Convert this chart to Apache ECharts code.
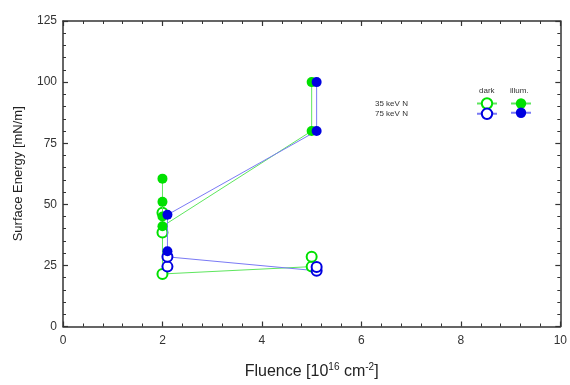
<!DOCTYPE html>
<html>
<head>
<meta charset="utf-8">
<script src="https://cdn.jsdelivr.net/npm/echarts@6/dist/echarts.min.js"></script>
<style>
  html, body { margin: 0; padding: 0; background: #fff; }
  #chart { width: 570px; height: 385px; }
</style>
</head>
<body>
<div id="chart"></div>
<script>
// fluence [1e16 cm^-2] and surface energy [mN/m]
const darkX35 = [2, 2, 2, 5, 5];
const darkY35 = [46.5, 38.5, 21.5, 24.5, 28.5];
const darkX75 = [2.1, 2.1, 5.1, 5.1];
const darkY75 = [24.5, 28.5, 22.8, 24.3];
const illumX35 = [2, 2, 2, 2, 5, 5];
const illumY35 = [60.5, 51, 45, 41, 80, 100];
const illumX75 = [2.1, 2.1, 5.1, 5.1];
const illumY75 = [30.8, 45.7, 80, 100];

const xTicks = [0, 2, 4, 6, 8, 10];
const yTicks = [0, 25, 50, 75, 100, 125];

const GREEN = '#00e000';
const BLUE = '#0000e0';
const font = 'Liberation Sans, Arial, sans-serif';

const pairs = (xs, ys) => xs.map((x, i) => [x, ys[i]]);

function series(name, xs, ys, color, lineColor, hollow) {
  return {
    name: name,
    type: 'line',
    data: pairs(xs, ys),
    symbol: hollow ? 'emptyCircle' : 'circle',
    symbolSize: 10,
    showSymbol: true,
    lineStyle: { color: lineColor, width: 1 },
    itemStyle: { color: color, borderColor: color, borderWidth: hollow ? 1 : 0 },
    emphasis: { disabled: true },
    z: hollow ? 2 : 3
  };
}

const axisCommon = {
  type: 'value',
  axisLine: { show: true, onZero: false, lineStyle: { color: '#333', width: 1.5 } },
  axisTick: { show: true, inside: true, length: 5, lineStyle: { color: '#333', width: 1.2 } },
  minorTick: { show: true, splitNumber: 5, length: 3, lineStyle: { color: '#333' } },
  splitLine: { show: false },
  axisLabel: { color: '#333', fontFamily: font, fontSize: 12 }
};

const legendCommon = {
  orient: 'vertical', top: 92,
  itemWidth: 20, itemHeight: 13, itemGap: -2.4,
  formatter: () => '', selectedMode: false,
  lineStyle: { type: 'dashed' }
};

const chart = echarts.init(document.getElementById('chart'));
chart.setOption({
  animation: false,
  backgroundColor: '#fff',
  grid: { left: 63, right: 8, top: 21, bottom: 52 },
  xAxis: [
    Object.assign({}, axisCommon, {
      min: xTicks[0], max: xTicks[xTicks.length - 1], interval: 2,
      axisLabel: Object.assign({}, axisCommon.axisLabel, { margin: 8 }),
      name: '{a|Fluence [10}{s|16}{a| cm}{s|-2}{a|]}',
      nameLocation: 'middle',
      nameGap: 36,
      nameTextStyle: {
        rich: {
          a: { fontSize: 16, fontFamily: font, color: '#222' },
          s: { fontSize: 10, fontFamily: font, color: '#222', padding: [0, 0, 9, 0] }
        }
      }
    }),
    Object.assign({}, axisCommon, {
      position: 'top', min: 0, max: 10, interval: 2,
      axisLabel: { show: false }
    })
  ],
  yAxis: [
    Object.assign({}, axisCommon, {
      min: yTicks[0], max: yTicks[yTicks.length - 1], interval: 25,
      axisLabel: Object.assign({}, axisCommon.axisLabel, { margin: 6 }),
      name: 'Surface Energy [mN/m]',
      nameLocation: 'middle',
      nameGap: 38,
      nameTextStyle: { fontSize: 13, fontFamily: font, color: '#222' }
    }),
    Object.assign({}, axisCommon, {
      position: 'right', min: 0, max: 125, interval: 25,
      axisLabel: { show: false }
    })
  ],
  legend: [
    Object.assign({}, legendCommon, { data: ['35 keV N dark', '75 keV N dark'], left: 471 }),
    Object.assign({}, legendCommon, { data: ['35 keV N illum.', '75 keV N illum.'], left: 505 })
  ],
  graphic: [
    { type: 'text', left: 479, top: 87, style: { text: 'dark', font: '8px ' + font, fill: '#333' } },
    { type: 'text', left: 510, top: 87, style: { text: 'illum.', font: '8px ' + font, fill: '#333' } },
    { type: 'text', left: 375, top: 98, style: { text: '35 keV N\n75 keV N', font: '8px ' + font, fill: '#333', lineHeight: 10.6 } }
  ],
  series: [
    series('35 keV N dark', darkX35, darkY35, GREEN, '#5ee65e', true),
    series('75 keV N dark', darkX75, darkY75, BLUE, '#7a7af5', true),
    series('35 keV N illum.', illumX35, illumY35, GREEN, '#5ee65e', false),
    series('75 keV N illum.', illumX75, illumY75, BLUE, '#7a7af5', false)
  ]
});
</script>
</body>
</html>
